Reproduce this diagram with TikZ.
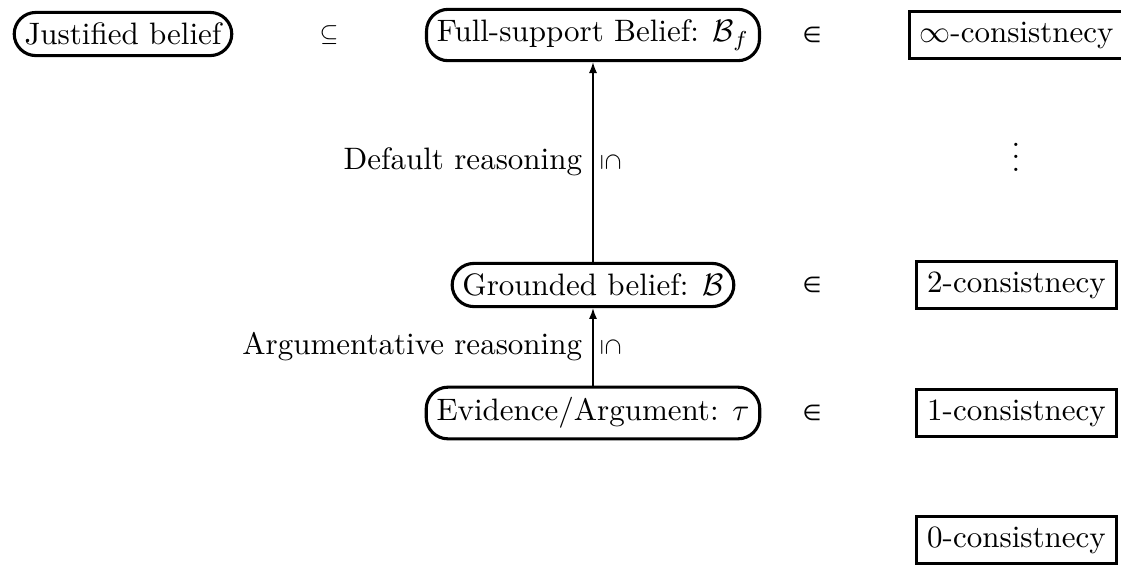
\documentclass[tikz,border=0pt]{standalone}
\usepackage{fontspec}
\newfontfamily\symfont{DejaVu Sans}
\usepackage{graphicx}
\usetikzlibrary{arrows.meta}
\begin{document}
\begin{tikzpicture}[x=0.3226pt,y=-0.3226pt,
  rbox/.style={draw,line width=1pt,rounded corners=7pt,inner sep=3.33pt},
  sbox/.style={draw,line width=1pt,inner sep=3.33pt},
  rel/.style={font=\symfont\fontsize{7}{8}\selectfont,inner sep=0pt},
  subrel/.style={font=\fontsize{7.5}{8}\selectfont,inner sep=0pt},
  conn/.style={-{Latex[length=3.5pt,width=2.6pt]}},
  lab/.style={inner sep=3.33pt}]
\useasboundingbox (0,0) rectangle (1121,564);
% top row
\node[rbox] (just) at (123,34) {Justified belief};
\node[subrel] (sub) at (329,35) {$\subseteq$};
\node[rbox] (full) at (593,35) {Full-support Belief: $\mathcal{B}_f$};
\node[rel] (in1) at (812,35) {∈};
\node[sbox] (inf) at (1016.5,35) {$\infty$-consistnecy};
\node (dots) at (1016,148) {$\vdots$};
% middle row
\node[rbox] (grounded) at (593,285) {Grounded belief: $\mathcal{B}$};
\node[rel] (in2) at (812,285) {∈};
\node[sbox] (two) at (1016.5,285) {2-consistnecy};
% lower row
\node[rbox] (evid) at (593,413) {Evidence/Argument: $\tau$};
\node[rel] (in3) at (812,413) {∈};
\node[sbox] (one) at (1016.5,413) {1-consistnecy};
\node[sbox] (zero) at (1016.5,540) {0-consistnecy};
% connectors
\draw[conn] (grounded) -- (full)
  node[midway,left,lab] (dr) {Default reasoning}
  node[midway,right,subrel,inner sep=2.5pt] (ss1) {\rotatebox[origin=c]{-90}{$\subseteq$}};
\draw[conn] (evid) -- (grounded)
  node[midway,left,lab] (ar) {Argumentative reasoning}
  node[midway,right,subrel,inner sep=2.5pt] (ss2) {\rotatebox[origin=c]{-90}{$\subseteq$}};
\end{tikzpicture}
\end{document}
